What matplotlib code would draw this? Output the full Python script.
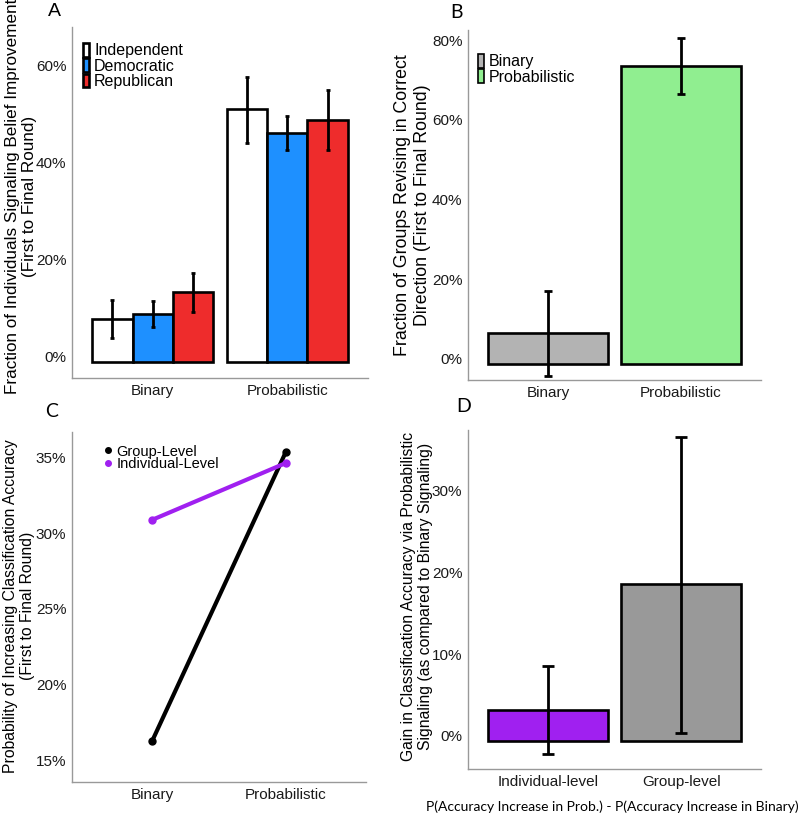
import numpy as np
import matplotlib
matplotlib.use('Agg')
import matplotlib.pyplot as plt
from matplotlib.ticker import PercentFormatter
from matplotlib.patches import Patch
from matplotlib.lines import Line2D

plt.rcParams['font.family'] = ['Liberation Sans', 'DejaVu Sans']

# ---- data (percent) ----
conditions = ['Binary', 'Probabilistic']

# A: individuals by party
parties = ['Independent', 'Democratic', 'Republican']
party_colors = ['white', '#1E90FF', '#EE2C2C']
a_vals = [[8.8, 52.1], [9.9, 47.2], [14.4, 49.9]]
a_lo = [[4.9, 45.1], [7.2, 43.7], [10.3, 43.7]]
a_hi = [[12.8, 58.7], [12.5, 50.7], [18.3, 56.1]]

# B: groups revising in correct direction
b_vals = [7.8, 75.0]
b_lo = [-3.0, 67.9]
b_hi = [18.4, 82.0]
b_colors = ['#B3B3B3', '#90EE90']

# C: probability of increasing accuracy
group_level = [16.65, 35.73]
individual_level = [31.25, 35.0]

# D: gain via probabilistic signaling
d_labels = ['Individual-level', 'Group-level']
d_vals = [3.8, 19.2]
d_lo = [-1.6, 1.0]
d_hi = [9.2, 37.3]
d_colors = ['#A020F0', '#999999']

W, H = 800, 817
fig = plt.figure(figsize=(W / 100, H / 100), dpi=100)


def px_axes(l, t, r, b):
    return fig.add_axes([l / W, 1 - b / H, (r - l) / W, (b - t) / H])


def style(ax, yticks, ylabel, xlab_px, ylab_y, fs):
    for s in ['top', 'right']:
        ax.spines[s].set_visible(False)
    for s in ['left', 'bottom']:
        ax.spines[s].set_color('#999999')
        ax.spines[s].set_linewidth(1)
    ax.set_yticks(yticks)
    ax.yaxis.set_major_formatter(PercentFormatter(100, decimals=0))
    ax.tick_params(length=0, labelsize=11, pad=4, colors='#1a1a1a')
    for lab in ax.get_yticklabels():
        lab.set_verticalalignment('baseline')
    ax.set_ylabel(ylabel, fontsize=fs)
    # right edge of the label block, in pixels
    l = ax.get_position().x0 * W
    w = ax.get_position().width * W
    ax.yaxis.set_label_coords((xlab_px - l) / w, ylab_y)


def errs(v, lo, hi):
    v, lo, hi = np.array(v), np.array(lo), np.array(hi)
    return [v - lo, hi - v]


x = np.arange(1, 3)

# ---------- A ----------
ax1 = px_axes(72, 27, 368, 378)
bw = 0.3
for i, p in enumerate(parties):
    xs = x + (i - 1) * bw
    ax1.bar(xs, a_vals[i], width=bw, color=party_colors[i], edgecolor='black',
            linewidth=1.9, label=p)
    ax1.errorbar(xs, a_vals[i], yerr=errs(a_vals[i], a_lo[i], a_hi[i]), fmt='none',
                 ecolor='black', elinewidth=2, capsize=1.6, capthick=2)
ax1.set_xlim(0.4, 2.6)
ax1.set_ylim(-3.3, 69)
ax1.set_xticks(x, conditions)
style(ax1, [0, 20, 40, 60],
      'Fraction of Individuals Signaling Belief Improvement\n(First to Final Round)',
      37, 0.517, 12.3)
ax1.legend(loc='upper left', bbox_to_anchor=(0.037, 0.955), frameon=False, borderpad=0,
           borderaxespad=0, fontsize=11.5, handlelength=0.4, handleheight=0.95,
           handletextpad=0.3, labelspacing=0.0)

# ---------- B ----------
ax2 = px_axes(468, 30, 761, 380)
ax2.bar(x, b_vals, width=0.9, color=b_colors, edgecolor='black', linewidth=1.9)
ax2.errorbar(x, b_vals, yerr=errs(b_vals, b_lo, b_hi), fmt='none', ecolor='black',
             elinewidth=2, capsize=3, capthick=2)
ax2.set_xlim(0.4, 2.6)
ax2.set_ylim(-4, 84)
ax2.set_xticks(x, conditions)
style(ax2, [0, 20, 40, 60, 80],
      'Fraction of Groups Revising in Correct\nDirection (First to Final Round)',
      431, 0.5, 12.8)
handles = [Patch(facecolor=c, edgecolor='black', linewidth=1.2) for c in b_colors]
ax2.legend(handles, conditions, loc='upper left', bbox_to_anchor=(0.034, 0.932),
           frameon=False, borderpad=0, borderaxespad=0, fontsize=11.5, handlelength=0.4,
           handleheight=0.95, handletextpad=0.3, labelspacing=0.0)

# ---------- C ----------
ax3 = px_axes(72, 432, 366, 782)
ax3.plot(x, group_level, color='black', lw=3, marker='o', ms=5, label='Group-Level')
ax3.plot(x, individual_level, color='#A020F0', lw=3, marker='o', ms=5,
         label='Individual-Level')
ax3.set_xlim(0.4, 2.6)
ax3.set_ylim(13.94, 37.05)
ax3.set_xticks(x, conditions)
style(ax3, [15, 20, 25, 30, 35],
      'Probability of Increasing Classification Accuracy\n(First to Final Round)',
      35, 0.503, 11.3)
leg_h = [Line2D([], [], color='black', marker='o', ls='none', ms=4),
         Line2D([], [], color='#A020F0', marker='o', ls='none', ms=4)]
ax3.legend(leg_h, ['Group-Level', 'Individual-Level'], loc='upper left',
           bbox_to_anchor=(0.11, 0.964), frameon=False, borderpad=0, borderaxespad=0,
           fontsize=10.5, handlelength=0.5, handletextpad=0.35, labelspacing=-0.1)

# ---------- D ----------
ax4 = px_axes(468, 430, 761, 769)
ax4.bar(x, d_vals, width=0.9, color=d_colors, edgecolor='black', linewidth=1.9)
ax4.errorbar(x, d_vals, yerr=errs(d_vals, d_lo, d_hi), fmt='none', ecolor='black',
             elinewidth=2, capsize=4.5, capthick=2)
ax4.set_xlim(0.4, 2.6)
ax4.set_ylim(-3.4, 38.1)
ax4.set_xticks(x, d_labels)
style(ax4, [0, 10, 20, 30],
      'Gain in Classification Accuracy via Probabilistic\nSignaling (as compared to Binary Signaling)',
      433, 0.51, 11.3)

fig.text(612 / W, 1 - 807 / H,
         'P(Accuracy Increase in Prob.) - P(Accuracy Increase in Binary)',
         family=['Lato', 'DejaVu Sans'], fontsize=10, ha='center', va='center')

# panel letters
fig.text(54 / W, 1 - 11 / H, 'A', fontsize=14, ha='center', va='center')
for lt, px, py in [('B', 457, 12), ('C', 52, 411), ('D', 464, 407)]:
    fig.text(px / W, 1 - py / H, lt, fontsize=14, ha='center', va='center',
             family=['Lato', 'DejaVu Sans'])

fig.savefig('out.png', dpi=100)
